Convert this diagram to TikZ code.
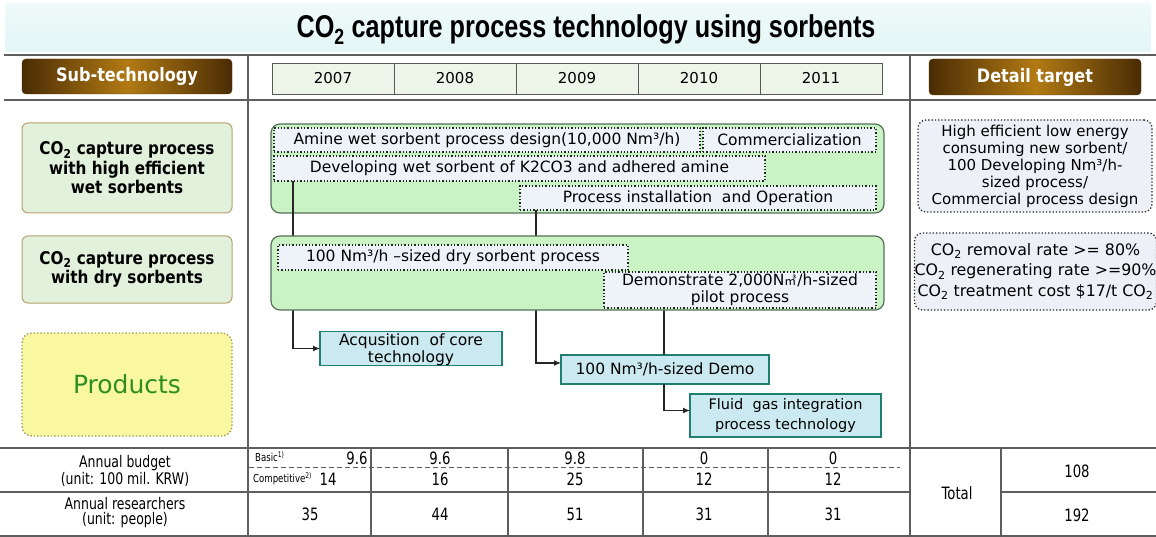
\documentclass[tikz,border=0pt]{standalone}
\usepackage{fontspec}
\setmainfont{DejaVu Sans}
\newfontfamily\titlefont{Liberation Sans}[FakeStretch=0.8]
\newfontfamily\labfont{DejaVu Sans}[FakeStretch=0.87]
\newfontfamily\tabfont{DejaVu Sans}[FakeStretch=0.78]
\newfontfamily\cjkfont{Noto Sans CJK KR}
\usetikzlibrary{arrows.meta}
\pgfdeclarelayer{back}\pgfdeclarelayer{front}
\pgfsetlayers{back,main,front}
\definecolor{banner}{HTML}{E4F6F6}
\definecolor{gridc}{HTML}{5E5E5E}
\definecolor{brownD}{HTML}{4A2C04}
\definecolor{brownL}{HTML}{B27A14}
\definecolor{yearfill}{HTML}{EEF6EA}
\definecolor{labfill}{HTML}{E2F1DC}
\definecolor{labedge}{HTML}{B8A070}
\definecolor{panelc}{HTML}{C9F3C5}
\definecolor{paneledge}{HTML}{56705A}
\definecolor{innerc}{HTML}{EDF3F8}
\definecolor{prodfill}{HTML}{CBE9F0}
\definecolor{prodedge}{HTML}{1F8070}
\definecolor{yel}{HTML}{F9F8A0}
\definecolor{yeledge}{HTML}{9A9A60}
\definecolor{prodtext}{HTML}{2E8E22}
\definecolor{tgtc}{HTML}{EEF0F8}
\newcommand\bx[7]{\node[#6,minimum width={(#4)-(#2)},minimum height={(#5)-(#3)},inner sep=0pt,outer sep=0pt,align=center] (#1) at ({((#2)+(#4))/2},{((#3)+(#5))/2}) {#7};}
\begin{document}
\begin{tikzpicture}[x=1pt,y=-1pt,
  gridline/.style={draw=gridc,line width=1.4pt},
  btn/.style={draw=brownD,rounded corners=4pt,left color=brownD,right color=brownD,middle color=brownL,text=white,font=\labfont\bfseries\fontsize{18.5}{20}\selectfont},
  yearbox/.style={draw=gray!70!black,line width=0.8pt,fill=yearfill,font=\fontsize{15}{16}\selectfont},
  lab/.style={draw=labedge,line width=1pt,rounded corners=6pt,fill=labfill,font=\labfont\bfseries\fontsize{17.5}{19.5}\selectfont},
  panel/.style={draw=paneledge,line width=1.2pt,rounded corners=9pt,fill=panelc},
  inbox/.style={draw=black!85,dotted,line width=1.3pt,fill=innerc,font=\fontsize{15.5}{17}\selectfont},
  prod/.style={draw=prodedge,line width=1.3pt,fill=prodfill,font=\fontsize{15.5}{17}\selectfont},
  tgt/.style={draw=black!85,dotted,line width=1.3pt,rounded corners=8pt,fill=tgtc},
  conn/.style={draw=black!85,line width=1.1pt},
  arr/.style={conn,-{Latex[length=7pt,width=6pt]}},
  tab/.style={font=\tabfont\fontsize{17}{16}\selectfont,inner sep=0pt,align=center},
  tablab/.style={tab,font=\tabfont\fontsize{16}{15}\selectfont},
  tabsm/.style={tab,anchor=west,font=\tabfont\fontsize{11}{12}\selectfont}
]
\useasboundingbox (0,0) rectangle (1156,537);
\begin{pgfonlayer}{back}
\fill[white] (0,0) rectangle (1156,537);
\end{pgfonlayer}
% banner and title
\fill[top color=banner!60,bottom color=banner] (5,4) rectangle (1151,52);
\node[inner sep=0pt] (title) at (586,30) {\titlefont\bfseries\fontsize{31.5}{33}\selectfont CO\textsubscript{2} capture process technology using sorbents};
% grid
\draw[gridline] (4,55) -- (1156,55);
\draw[gridline] (4,100) -- (1156,100);
\draw[gridline] (248,55) -- (248,537);
\draw[gridline] (910,55) -- (910,537);
\draw[gridline] (0,448) -- (1156,448);
\draw[gridline] (0,492) -- (910,492);
\draw[gridline] (1001,492) -- (1156,492);
\draw[gridline] (0,536) -- (1156,536);
\foreach \xx in {371,508,643,768,1001} {\draw[gridline] (\xx,448) -- (\xx,536);}
\draw[gridc,line width=1pt,dash pattern=on 5pt off 3pt] (249,467) -- (900,467);
% header buttons
\bx{subt}{22}{59}{232}{94}{btn}{Sub-technology}
\bx{dett}{929}{59}{1141}{95}{btn}{Detail target}
\bx{y2007}{272}{63}{394}{94}{yearbox}{2007}
\bx{y2008}{394}{63}{516}{94}{yearbox}{2008}
\bx{y2009}{516}{63}{638}{94}{yearbox}{2009}
\bx{y2010}{638}{63}{760}{94}{yearbox}{2010}
\bx{y2011}{760}{63}{882}{94}{yearbox}{2011}
% left labels
\bx{wetl}{22}{123}{232}{213}{lab}{CO\textsubscript{2} capture process\\with high efficient\\wet sorbents}
\bx{dryl}{22}{236}{232}{303}{lab}{CO\textsubscript{2} capture process\\with dry sorbents}
\bx{prodl}{22}{333}{232}{436}{draw=yeledge,dotted,line width=1.4pt,rounded corners=10pt,fill=yel,text=prodtext,font=\fontsize{25}{28}\selectfont}{Products}
% wet panel
\begin{pgfonlayer}{back}
\bx{wetp}{271}{124}{884}{213}{panel}{}
\bx{amine}{274}{128}{700}{152}{inbox}{Amine wet sorbent process design(10,000 Nm³/h)}
\bx{comm}{703}{128}{876}{152}{inbox}{Commercialization}
\bx{dev}{274}{156}{765}{181}{inbox}{Developing wet sorbent of K2CO3 and adhered amine}
\bx{proc}{520}{186}{876}{210}{inbox}{Process installation \ and Operation}
\end{pgfonlayer}
% dry panel
\begin{pgfonlayer}{front}
\bx{dryp}{271}{236}{884}{310}{panel}{}
\bx{hund}{278}{245}{628}{270}{inbox}{100 Nm³/h –sized dry sorbent process}
\bx{demon}{604}{272}{876}{308}{inbox}{Demonstrate 2,000N{\cjkfont\fontsize{12}{12}\selectfont ㎥}\kern1pt/h-sized\\pilot process}
\end{pgfonlayer}
% products
\bx{acq}{320}{335}{502}{362}{prod}{\rule{0pt}{14pt}Acqusition \ of core\\technology}
\bx{demo}{561}{355}{769}{384}{prod}{100 Nm³/h-sized Demo}
\bx{fluid}{690}{394}{881}{437}{prod,font=\fontsize{14.5}{20}\selectfont}{Fluid \ gas integration\\process technology}
% connectors
\draw[arr] ([xshift=19pt]dev.south west) |- (acq.west);
\draw[arr] ([xshift=16pt]proc.south west) |- ([yshift=6.5pt]demo.west);
\draw[conn] ([xshift=60pt]demon.south west) -- ([xshift=60pt]demon.south west |- demo.north);
\draw[arr] ([xshift=103pt]demo.south west) |- ([yshift=5pt]fluid.west);
% targets
\bx{tgt1}{918}{120}{1152}{212}{tgt,font=\fontsize{15}{17}\selectfont}{High efficient low energy\\consuming new sorbent/\\100 Developing Nm³/h-\\sized process/\\Commercial process design}
\bx{tgt2}{917}{233}{1154}{310}{tgt,font=\fontsize{15.8}{20.5}\selectfont}{CO\textsubscript{2} removal rate >= 80\%\\CO\textsubscript{2} regenerating rate >=90\%\\CO\textsubscript{2} treatment cost \$17/t CO\textsubscript{2}}
% table
\node[tablab] (bud) at (125,471) {Annual budget\\(unit: 100 mil. KRW)};
\node[tablab] (res) at (125,513) {Annual researchers\\(unit: people)};
\node[tabsm] (basic) at (255,457) {Basic\textsuperscript{1)}};
\node[tabsm] (compet) at (253,479) {Competitive\textsuperscript{2)}};
\node[tab] (b07) at (357,458) {9.6};
\node[tab] (c07) at (328,479) {14};
\node[tab] (b08) at (440,458) {9.6};
\node[tab] (c08) at (440,479) {16};
\node[tab] (b09) at (575,458) {9.8};
\node[tab] (c09) at (575,479) {25};
\node[tab] (b10) at (704,458) {0};
\node[tab] (c10) at (704,479) {12};
\node[tab] (b11) at (833,458) {0};
\node[tab] (c11) at (833,479) {12};
\node[tab] (r07) at (310,514) {35};
\node[tab] (r08) at (440,514) {44};
\node[tab] (r09) at (575,514) {51};
\node[tab] (r10) at (704,514) {31};
\node[tab] (r11) at (833,514) {31};
\node[tab] (total) at (957,493) {Total};
\node[tab] (tb) at (1077,471) {108};
\node[tab] (tr) at (1077,515) {192};
\end{tikzpicture}
\end{document}
